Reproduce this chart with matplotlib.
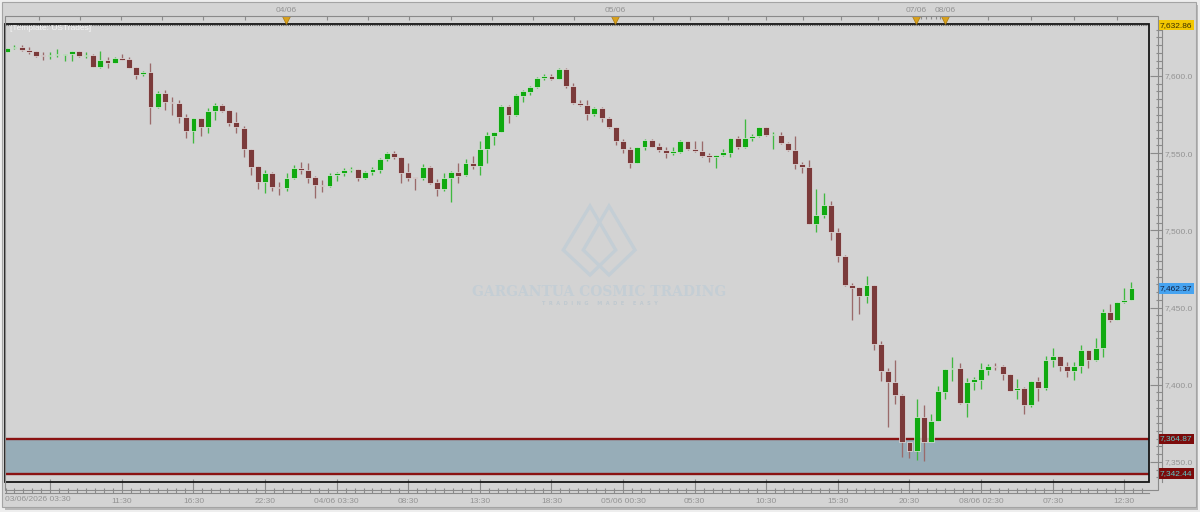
import numpy as np
import matplotlib
matplotlib.use("Agg")
import matplotlib.pyplot as plt
import matplotlib.transforms as mtransforms
from matplotlib.patches import Rectangle, Polygon
from matplotlib.ticker import FixedLocator, FixedFormatter, FuncFormatter, MultipleLocator

plt.rcParams['font.family'] = ['Liberation Sans', 'DejaVu Sans']

# ---------------- data ----------------
opens = [7615.6, 7618.0, 7618.8, 7616.9, 7616.0, 7613.6, 7612.8, 7613.4, 7613.6, 7614.3,
         7616.0, 7612.8, 7613.4, 7606.1, 7610.4, 7608.7, 7611.7, 7611.0, 7605.6, 7601.1,
         7602.4, 7580.1, 7589.2, 7583.3, 7582.7, 7573.6, 7564.3, 7572.5, 7566.9, 7577.1,
         7581.4, 7577.7, 7570.1, 7566.5, 7552.6, 7541.8, 7531.4, 7537.4, 7528.4, 7527.7,
         7533.8, 7540.5, 7539.2, 7534.6, 7529.2, 7528.8, 7536.1, 7537.4, 7539.0, 7539.6,
         7534.0, 7537.9, 7539.2, 7546.1, 7550.0, 7547.2, 7537.9, 7534.2, 7533.6, 7541.3,
         7531.4, 7527.1, 7534.0, 7537.9, 7535.7, 7543.9, 7541.8, 7553.0, 7561.3, 7563.4,
         7580.3, 7574.7, 7587.2, 7589.8, 7592.9, 7598.5, 7599.8, 7598.1, 7604.8, 7593.5,
         7582.7, 7581.2, 7575.3, 7579.2, 7572.7, 7566.7, 7558.2, 7552.8, 7543.9, 7553.7,
         7558.4, 7554.5, 7552.2, 7550.0, 7550.9, 7557.6, 7553.0, 7551.5, 7548.7, 7547.2,
         7548.7, 7550.4, 7559.7, 7553.7, 7559.7, 7561.3, 7566.7, 7561.9, 7561.9, 7556.7,
         7552.2, 7542.9, 7541.3, 7504.3, 7509.7, 7516.2, 7498.9, 7483.1, 7464.9, 7463.0,
         7457.4, 7464.5, 7426.6, 7409.1, 7401.7, 7393.1, 7362.8, 7357.1, 7379.4, 7362.6,
         7376.2, 7395.2, 7410.0, 7410.8, 7388.1, 7401.5, 7403.3, 7409.7, 7412.1, 7412.1,
         7406.9, 7396.3, 7397.6, 7386.8, 7402.6, 7397.6, 7416.2, 7418.4, 7412.3, 7408.7,
         7411.9, 7422.7, 7415.8, 7423.6, 7447.4, 7442.2, 7453.7, 7454.8]
highs = [7618.4, 7619.9, 7619.9, 7618.6, 7616.0, 7615.6, 7615.4, 7617.8, 7614.5, 7616.5,
         7616.2, 7615.6, 7614.3, 7616.0, 7612.1, 7612.6, 7614.5, 7612.1, 7605.6, 7603.3,
         7608.4, 7590.5, 7591.1, 7586.4, 7584.4, 7575.5, 7572.5, 7572.5, 7579.0, 7582.3,
         7581.8, 7578.1, 7576.8, 7567.5, 7552.6, 7541.8, 7539.2, 7538.1, 7531.6, 7537.0,
         7542.2, 7544.6, 7543.9, 7535.3, 7532.9, 7537.0, 7538.1, 7540.3, 7541.3, 7540.0,
         7538.3, 7540.9, 7546.8, 7550.9, 7551.5, 7547.6, 7543.5, 7534.2, 7543.1, 7541.8,
         7533.1, 7537.4, 7538.3, 7543.5, 7546.1, 7548.3, 7558.0, 7563.9, 7563.9, 7581.2,
         7581.2, 7588.5, 7590.9, 7593.7, 7599.1, 7601.1, 7601.5, 7605.0, 7605.0, 7595.5,
         7584.2, 7584.2, 7579.7, 7580.1, 7573.2, 7567.1, 7559.5, 7553.7, 7553.7, 7559.5,
         7559.1, 7556.9, 7554.3, 7554.3, 7558.4, 7558.0, 7558.0, 7558.0, 7550.0, 7548.7,
         7553.0, 7559.7, 7561.3, 7572.1, 7562.3, 7566.7, 7566.7, 7563.4, 7563.9, 7557.4,
         7561.3, 7544.6, 7545.7, 7526.6, 7524.5, 7519.1, 7501.7, 7483.8, 7465.6, 7463.2,
         7470.3, 7464.9, 7428.6, 7410.8, 7415.8, 7393.9, 7363.2, 7390.9, 7387.0, 7381.2,
         7399.4, 7410.2, 7417.8, 7414.1, 7404.3, 7405.0, 7414.1, 7413.6, 7414.1, 7412.6,
         7406.9, 7403.9, 7398.5, 7402.6, 7405.0, 7418.8, 7423.8, 7418.8, 7414.5, 7414.9,
         7425.8, 7422.7, 7430.5, 7449.1, 7452.6, 7453.9, 7462.8, 7466.7]
lows = [7615.3, 7617.8, 7616.5, 7614.3, 7612.1, 7610.6, 7611.0, 7612.1, 7610.0, 7610.0,
        7612.1, 7611.5, 7605.6, 7605.0, 7605.4, 7608.2, 7610.4, 7605.0, 7598.3, 7600.2,
        7569.1, 7579.2, 7578.1, 7574.7, 7569.5, 7560.0, 7556.7, 7561.3, 7563.0, 7571.4,
        7576.8, 7567.8, 7562.8, 7547.2, 7535.9, 7526.6, 7524.5, 7525.5, 7522.9, 7525.5,
        7533.1, 7536.8, 7531.0, 7521.2, 7525.1, 7528.1, 7532.3, 7535.3, 7538.1, 7532.3,
        7533.3, 7535.9, 7537.4, 7545.2, 7546.1, 7531.0, 7532.0, 7526.2, 7532.5, 7530.3,
        7522.3, 7525.5, 7518.4, 7531.0, 7535.3, 7539.6, 7535.7, 7543.9, 7555.2, 7563.4,
        7569.5, 7573.8, 7582.9, 7587.9, 7592.4, 7597.6, 7597.4, 7598.1, 7592.4, 7581.6,
        7580.7, 7571.6, 7573.8, 7569.9, 7566.5, 7555.2, 7550.4, 7540.3, 7543.5, 7552.2,
        7553.7, 7550.9, 7547.0, 7548.7, 7550.4, 7552.0, 7550.9, 7547.2, 7544.6, 7540.7,
        7548.3, 7547.8, 7553.0, 7553.3, 7557.6, 7560.8, 7561.3, 7553.0, 7556.1, 7551.3,
        7540.0, 7537.2, 7503.9, 7498.9, 7508.2, 7493.5, 7479.7, 7463.9, 7442.2, 7445.9,
        7453.0, 7422.7, 7402.2, 7372.9, 7387.7, 7353.5, 7352.4, 7351.3, 7350.7, 7362.6,
        7376.2, 7390.9, 7402.2, 7387.7, 7379.4, 7396.3, 7397.2, 7406.1, 7409.7, 7403.3,
        7395.7, 7390.7, 7381.2, 7385.5, 7389.6, 7396.3, 7411.5, 7408.7, 7405.0, 7402.8,
        7407.6, 7410.8, 7415.2, 7418.0, 7440.5, 7441.8, 7452.8, 7454.6]
closes = [7618.0, 7619.0, 7616.7, 7615.6, 7613.2, 7613.0, 7613.9, 7613.9, 7614.5, 7616.0,
          7612.8, 7613.4, 7606.1, 7610.4, 7608.7, 7611.7, 7610.6, 7605.4, 7600.9, 7602.6,
          7580.1, 7589.2, 7582.9, 7582.5, 7573.4, 7564.3, 7572.5, 7567.1, 7577.5, 7581.4,
          7577.3, 7569.7, 7566.7, 7552.6, 7541.1, 7531.4, 7537.4, 7528.4, 7527.5, 7533.8,
          7540.5, 7539.2, 7534.2, 7529.2, 7528.6, 7536.1, 7537.4, 7539.2, 7539.6, 7533.8,
          7537.9, 7539.6, 7546.1, 7550.0, 7547.6, 7537.4, 7533.8, 7533.6, 7541.3, 7531.0,
          7527.1, 7534.0, 7537.9, 7535.3, 7543.9, 7541.8, 7553.0, 7561.7, 7563.9, 7580.3,
          7574.7, 7587.7, 7590.3, 7593.1, 7598.7, 7599.8, 7598.1, 7604.8, 7593.3, 7582.5,
          7581.2, 7575.1, 7579.2, 7572.5, 7566.7, 7557.8, 7552.4, 7543.9, 7553.7, 7558.4,
          7554.3, 7552.0, 7550.0, 7551.1, 7557.6, 7552.6, 7551.3, 7548.3, 7547.2, 7548.7,
          7550.7, 7559.7, 7553.7, 7559.7, 7561.3, 7566.7, 7561.7, 7562.6, 7556.5, 7552.2,
          7542.9, 7541.1, 7504.3, 7509.7, 7516.2, 7498.9, 7483.1, 7464.9, 7462.8, 7457.4,
          7464.5, 7426.4, 7409.1, 7401.7, 7393.1, 7362.8, 7357.1, 7379.4, 7362.6, 7376.6,
          7395.7, 7410.2, 7410.8, 7388.1, 7401.5, 7403.7, 7410.2, 7412.3, 7411.7, 7406.9,
          7396.1, 7397.6, 7386.8, 7402.6, 7397.6, 7416.2, 7418.8, 7411.9, 7408.7, 7412.1,
          7422.7, 7415.8, 7423.8, 7447.4, 7442.2, 7453.7, 7455.0, 7462.37]

time_labels = ["03/06/2026 03:30", "11:30", "16:30", "22:30", "04/06 03:30", "08:30",
               "13:30", "18:30", "05/06 00:30", "05:30", "10:30", "15:30", "20:30",
               "08/06 02:30", "07:30", "12:30"]
time_label_bars = [6, 16, 26, 36, 46, 56, 66, 76, 86, 96, 106, 116, 126, 136, 146, 156]
day_labels = ["04/06", "05/06", "07/06", "08/06"]
day_bars = [38.9, 84.9, 126.9, 131.0]

price_ticks = [7350, 7400, 7450, 7500, 7550, 7600]
zone_low, zone_high = 7342.44, 7364.87
session_high = 7632.86
last_price = 7462.37

# ---------------- layout ----------------
W, H = 1200, 512
fig = plt.figure(figsize=(12, 5.12), dpi=100)
fig.patch.set_facecolor('#eeeeee')

def fx(px):
    return px / W

def fy(py):
    return 1 - py / H

# panel + shadow
fig.add_artist(Rectangle((fx(5), fy(510)), fx(1193), 505 / H, transform=fig.transFigure,
                         facecolor='#b9b9b9', edgecolor='none', zorder=-3))
fig.add_artist(Rectangle((fx(2), fy(507)), fx(1194), 505 / H, transform=fig.transFigure,
                         facecolor='#d4d4d4', edgecolor='#a4a4a4', lw=0.8, zorder=-2))

L, R, T, B = 5, 1149, 23.5, 482
ax = fig.add_axes([fx(L), fy(B), fx(R - L), (B - T) / H])
ax.set_facecolor('#d3d3d3')
ax.set_xlim(-0.32, 159.45)
ax.set_ylim(7337.0, 7634.0)

TICK_C = '#8a8a8a'
LAB_C = '#939393'
for s in ['top', 'left']:
    ax.spines[s].set_visible(False)
ax.spines['right'].set_position(('outward', 9))
ax.spines['bottom'].set_position(('outward', 8))
ax.spines['right'].set_color(TICK_C)
ax.spines['bottom'].set_color(TICK_C)
ax.spines['right'].set_linewidth(0.8)
ax.spines['bottom'].set_linewidth(0.8)

ax.yaxis.tick_right()
ax.yaxis.set_major_locator(FixedLocator(price_ticks))
ax.yaxis.set_minor_locator(MultipleLocator(5))
ax.yaxis.set_major_formatter(FuncFormatter(lambda v, p: f"{v:,.1f}"))
ax.tick_params(axis='y', which='major', direction='in', length=9, width=0.8, color=TICK_C,
               pad=2, labelsize=6, labelcolor=LAB_C)
ax.tick_params(axis='y', which='minor', direction='in', length=4, width=0.8, color=TICK_C)

ax.xaxis.set_major_locator(FixedLocator(time_label_bars))
ax.xaxis.set_major_formatter(FixedFormatter([""] + time_labels[1:]))
ax.xaxis.set_minor_locator(FixedLocator(np.arange(-0.25, 159.4, 1.25)))
ax.tick_params(axis='x', which='major', direction='in', length=10, width=0.8, color=TICK_C,
               pad=3.5, labelsize=6, labelcolor=LAB_C)
ax.tick_params(axis='x', which='minor', direction='in', length=3.3, width=0.8, color=TICK_C)
fig.text(fx(5), fy(499.3), time_labels[0], ha='left', va='center', fontsize=6, color=LAB_C)

# black plot frame
ax.add_patch(Rectangle((0, 0), 1, 1, transform=ax.transAxes, fill=False, edgecolor='#161616',
                       lw=1.3, zorder=10, clip_on=False))
# outer gray ruler frame
fig.add_artist(Rectangle((fx(5), fy(490)), fx(1153), (490 - 16) / H, transform=fig.transFigure,
                         fill=False, edgecolor=TICK_C, lw=0.8, zorder=1))

# ---------------- watermark ----------------
WM = '#c4ced5'
def P(px, py):
    return (fx(px), fy(py))
for pts in ([P(590, 206), P(615.7, 250), P(590, 275), P(563.3, 250)],
            [P(609, 206), P(635, 250), P(609, 275), P(583.3, 250)]):
    ax.add_patch(Polygon(pts, closed=True, fill=False, edgecolor=WM, lw=2.4,
                         transform=fig.transFigure, zorder=0.5))
ax.text(fx(599.5), fy(291.7), "GARGANTUA COSMIC TRADING", transform=fig.transFigure,
        ha='center', va='center', fontsize=10, fontweight='bold', family='DejaVu Serif',
        color=WM, zorder=0.5)
ax.text(fx(600), fy(303.3), "T  R  A  D  I  N  G     M  A  D  E     E  A  S  Y",
        transform=fig.transFigure, ha='center', va='center', fontsize=3.6, fontweight='bold',
        family='DejaVu Sans', color='#bfc9d0', zorder=0.5)

# ---------------- zone & lines ----------------
ax.axhspan(zone_low, zone_high, facecolor='#97adb8', edgecolor='none', zorder=1)
for yv in (zone_low, zone_high):
    ax.axhline(yv, color='#8a1212', lw=1.7, zorder=2)
ax.axhline(session_high, color='#5a5a5a', lw=0.8, ls=(0, (1, 1)), zorder=2)

# ---------------- candles ----------------
o = np.array(opens); c = np.array(closes); h = np.array(highs); l = np.array(lows)
x = np.arange(len(o))
up = c >= o
GREEN, RED = '#10aa10', '#7b3a3a'
body_col = np.where(up, GREEN, RED)
wick_col = np.where(up, '#40b940', '#9a6a6a')
ax.vlines(x, l, h, colors=wick_col, lw=0.95, zorder=3)
ax.bar(x, np.maximum(np.abs(c - o), 0.7), width=0.82, bottom=np.minimum(o, c),
       color=body_col, edgecolor='#e6e6e6', linewidth=0.5, zorder=4)

# ---------------- right price tags ----------------
trans = mtransforms.blended_transform_factory(ax.transAxes, ax.transData)
lab_x = (1160 - L) / (R - L)
def tag(val, bg, fg):
    ax.text(lab_x, val, f"{val:,.2f}", transform=trans, ha='left', va='center', fontsize=6,
            color=fg, clip_on=False, zorder=12,
            bbox=dict(boxstyle='square,pad=0.2', fc=bg, ec='none'))
tag(session_high, '#f2c700', '#3a3000')
tag(last_price, '#46a3f0', '#102040')
tag(zone_high, '#7c0b0b', '#5ec8c8')
tag(zone_low, '#7c0b0b', '#5ec8c8')

# ---------------- top time strip ----------------
tb = mtransforms.blended_transform_factory(ax.transData, fig.transFigure)
top_ticks = np.concatenate([
    day_bars[0] - 5.75 * np.arange(6, 0, -1),
    np.linspace(day_bars[0], day_bars[1], 9),
    np.linspace(day_bars[1], day_bars[2], 9)[1:],
    day_bars[3] + 6.0 * np.arange(0, 5)])
ax.vlines(top_ticks, fy(19.5), fy(16), transform=tb, colors=TICK_C, lw=0.8, clip_on=False)
small = np.linspace(day_bars[2], day_bars[3], 7)[1:-1]
ax.vlines(small, fy(18.5), fy(16), transform=tb, colors=TICK_C, lw=0.8, clip_on=False)
ax.plot(day_bars, [fy(19.8)] * len(day_bars), ls='none', marker='v', ms=5.5,
        mfc='#d9a11c', mec='#a8780e', mew=0.5, transform=tb, clip_on=False, zorder=11)
for lbl, pos in zip(day_labels, day_bars):
    ax.text(pos, fy(10.5), lbl, transform=tb, ha='center', va='center', fontsize=6,
            color=LAB_C, clip_on=False)

fig.text(fx(10), fy(29), "[Template: USTrades]", ha='left', va='center', fontsize=6,
         color='#f6f6f6')

fig.savefig('out.png', dpi=100, facecolor=fig.get_facecolor())
